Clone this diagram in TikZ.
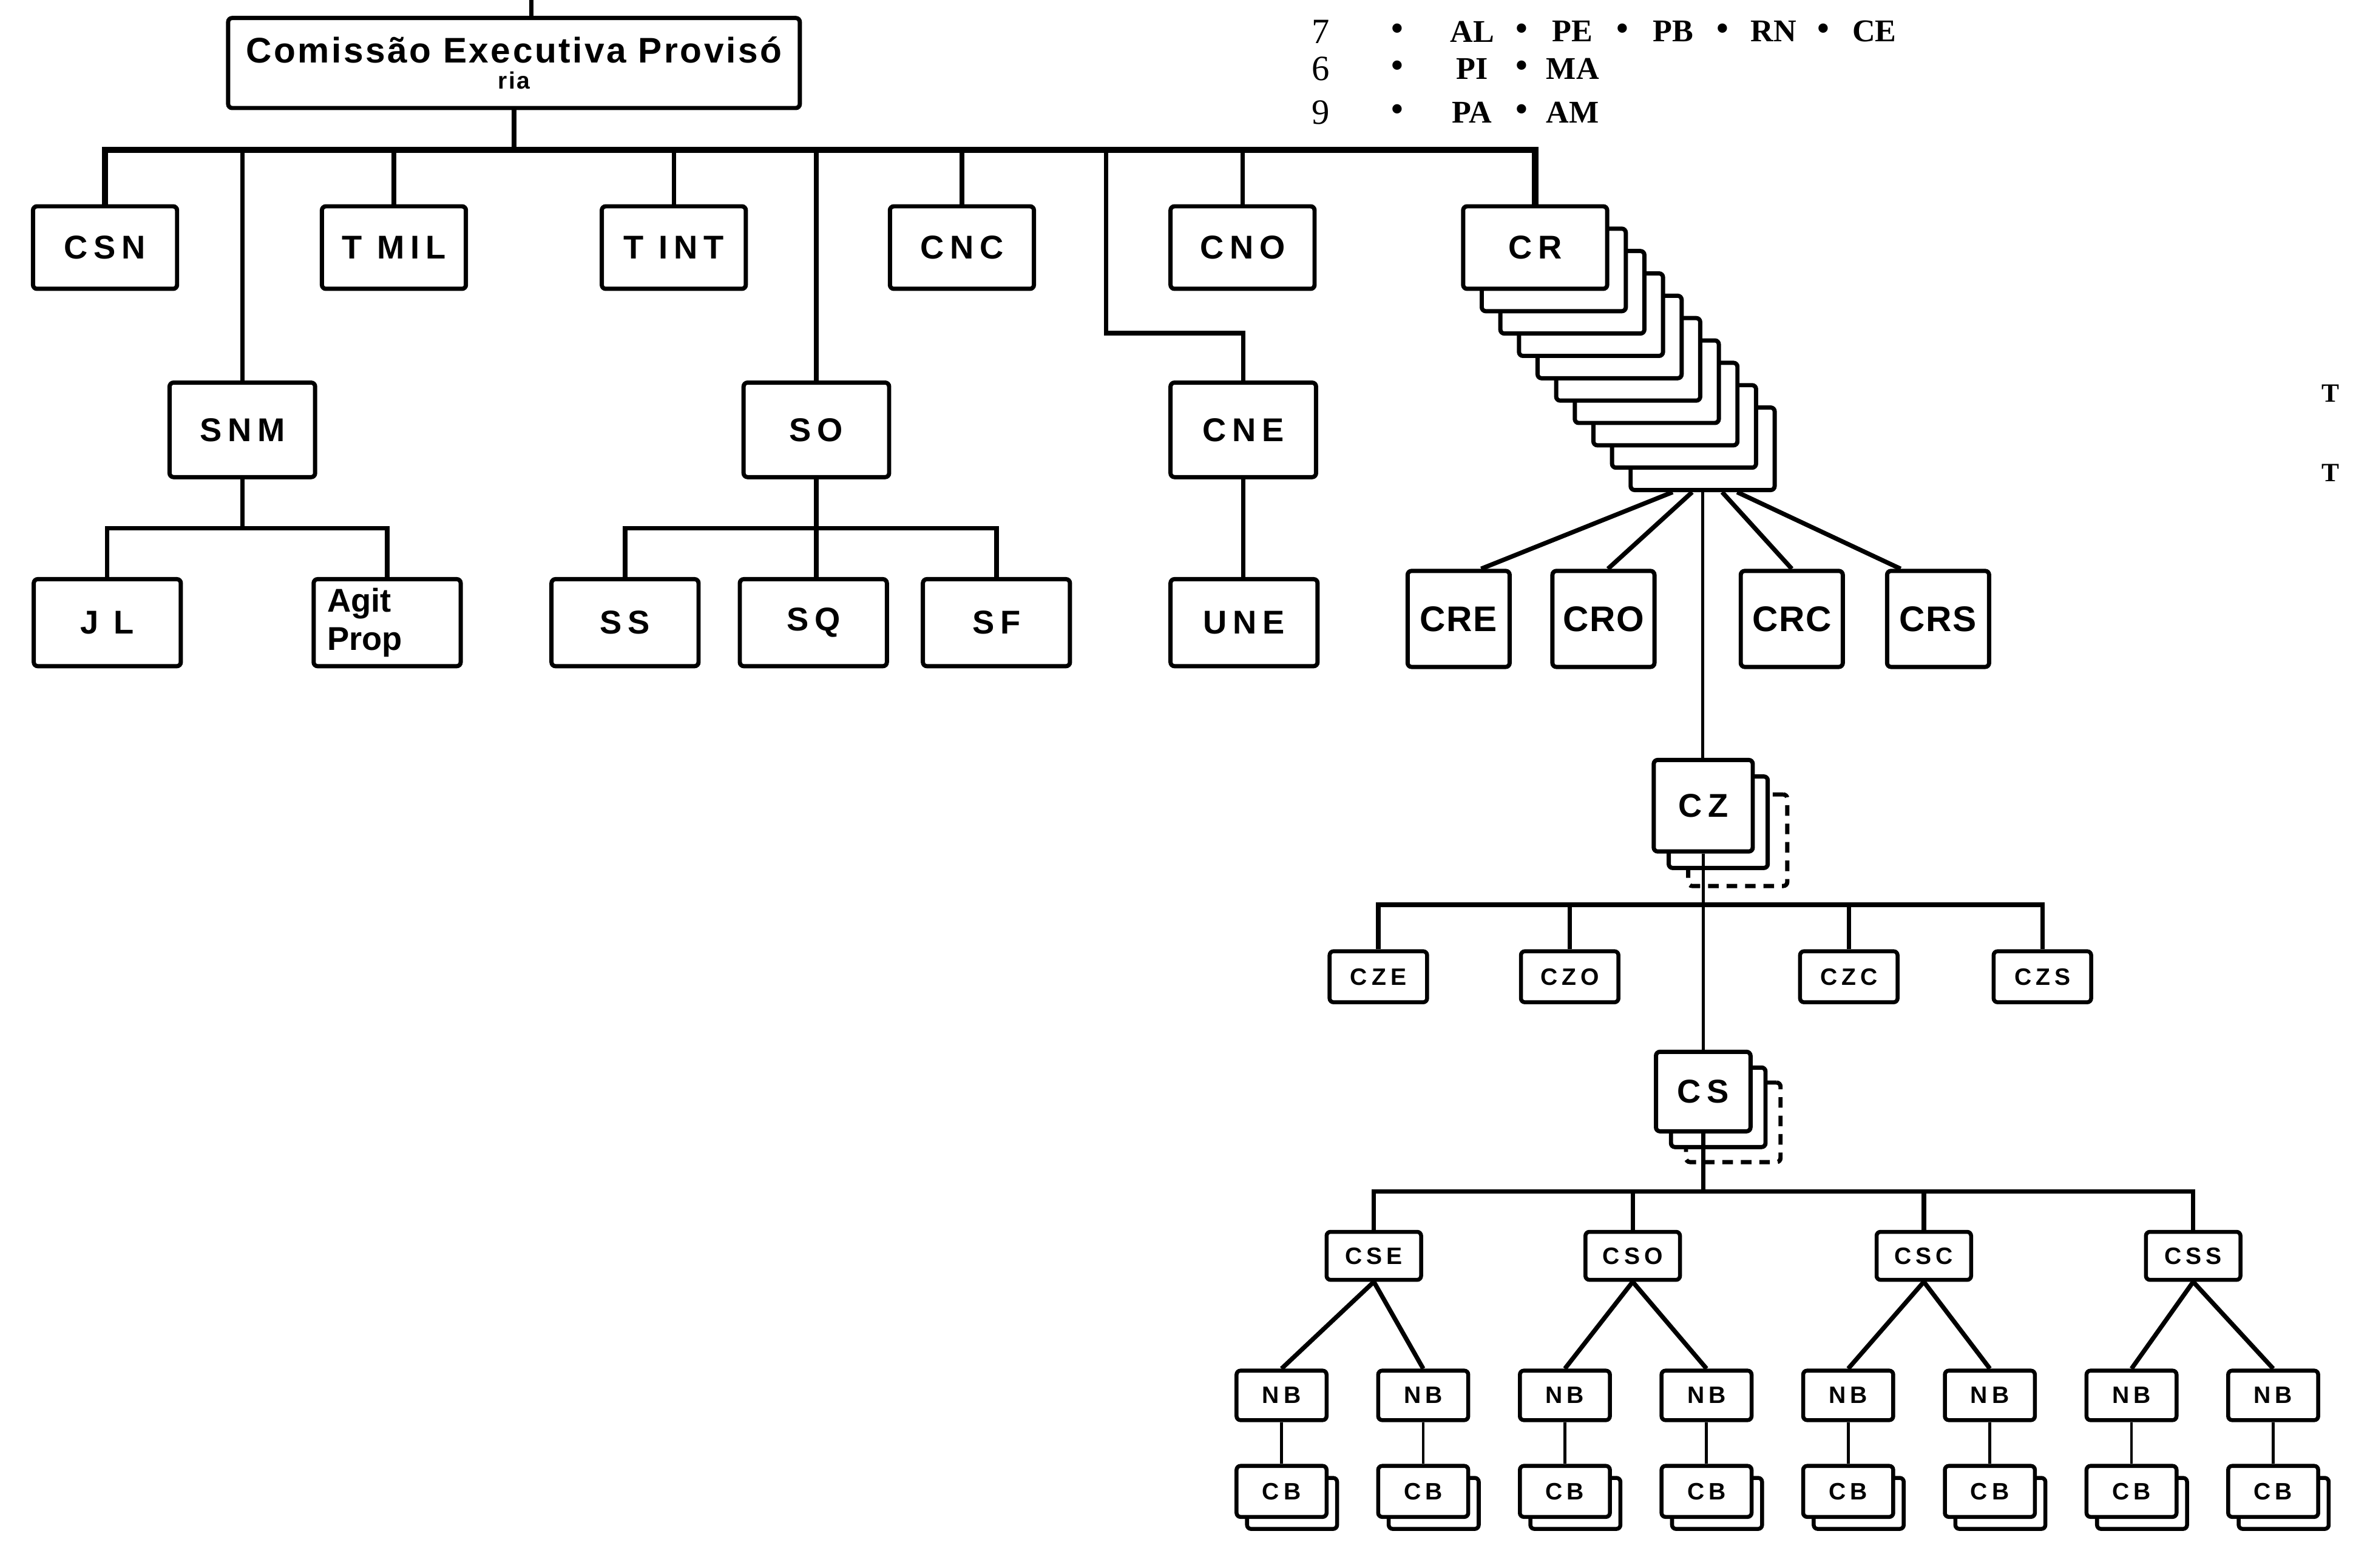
\documentclass[tikz,border=0pt]{standalone}
\usepackage{fontspec}
\setmainfont{Liberation Sans}
\newfontfamily\orgfont[LetterSpace=18]{Liberation Sans}
\newfontfamily\cepfont[LetterSpace=6]{Liberation Sans}
\newfontfamily\regfont[LetterSpace=3]{Liberation Sans}
\newfontfamily\legfont{Liberation Serif}
\usetikzlibrary{positioning,calc}
\tikzset{
    orgbox/.style={rectangle,draw,line width=1.6pt,fill=white,rounded corners=1.5pt,
                   minimum width=1.92cm,minimum height=1.1cm,inner sep=0pt,align=center,
                   font=\orgfont\bfseries\fontsize{12.5}{15}\selectfont},
    tinybox/.style={orgbox,line width=1.5pt,minimum width=1.2cm,minimum height=0.66cm,
                    font=\orgfont\bfseries\fontsize{9}{10}\selectfont},
    bus/.style={line width=2.4pt},
    link/.style={line width=1.7pt},
    thin/.style={line width=1.1pt},
}

\begin{document}
\begin{tikzpicture}[
    x=0.02cm, y=-0.02cm,
    midbox/.style={orgbox,minimum width=1.94cm,minimum height=1.26cm},
    lowbox/.style={orgbox,minimum width=1.96cm,minimum height=1.16cm},
    regbox/.style={orgbox,minimum width=1.36cm,minimum height=1.28cm,
                   font=\regfont\bfseries\fontsize{13.5}{16}\selectfont},
    zonebox/.style={orgbox,minimum width=1.32cm,minimum height=1.22cm},
    secbox/.style={orgbox,minimum width=1.26cm,minimum height=1.06cm},
    stackdash/.style={dash pattern=on 4pt off 3pt},
    legnum/.style={inner sep=0pt,font=\legfont\fontsize{13.5}{15}\selectfont},
    legtok/.style={inner sep=0pt,font=\legfont\bfseries\fontsize{12}{13}\selectfont},
    legsep/.style={inner sep=0pt,font=\legfont\bfseries\fontsize{13}{13}\selectfont},
]
    \fill[white] (0,0) rectangle (1568,1045);
    \useasboundingbox (0,0) rectangle (1568,1045);

    % ---- legenda ----
    \foreach \rown/\y/\items in {7/21/{AL,PE,PB,RN,CE},6/46/{PI,MA},9/75/{PA,AM}} {
        \node[legnum] (leg-\rown) at (880,\y) {\rown};
        \node[legsep] (leg-\rown-s0) at (931,\y) {•};
        \foreach \tok [count=\i] in \items {
            \node[legtok] (leg-\rown-\i) at ({981+67*(\i-1)},\y) {\tok};
            \ifnum\i>1 \node[legsep] (leg-\rown-s\i) at ({947+67*(\i-1)},\y) {•}; \fi
        }
    }
    \node[inner sep=0pt,font=\legfont\bfseries\fontsize{10}{12}\selectfont] (t-a) at (1553,262) {T};
    \node[inner sep=0pt,font=\legfont\bfseries\fontsize{10}{12}\selectfont] (t-b) at (1553,315) {T};

    % ---- comissao executiva ----
    \coordinate (top) at (354,0);
    \node[orgbox,minimum width=7.62cm,minimum height=1.2cm,
          font=\cepfont\bfseries\fontsize{13.5}{14}\selectfont] (cep) at (342.5,42)
        {Comissão Executiva Provisó\\[-4pt]{\fontsize{9}{10}\selectfont ria}};
    \coordinate (bus) at (0,100);

    % ---- primeira linha ----
    \node[orgbox] (csn)  at (70,165)    {CSN};
    \node[orgbox] (tmil) at (262.5,165) {T MIL};
    \node[orgbox] (tint) at (449,165)   {T INT};
    \node[orgbox] (cnc)  at (641,165)   {CNC};
    \node[orgbox] (cno)  at (828,165)   {CNO};
    \foreach \k in {9,...,1}
        \node[orgbox] (cr-\k) at ({1023+12.4*\k},{165+14.9*\k}) {};
    \node[orgbox] (cr) at (1023,165) {CR};

    % ---- segunda linha ----
    \node[midbox] (snm) at (161.5,286.5) {SNM};
    \node[midbox] (so)  at (544,286.5)   {SO};
    \node[midbox] (cne) at (828.5,286.5) {CNE};

    % ---- terceira linha ----
    \node[lowbox] (jl)  at (71.5,415) {J L};
    \node[lowbox,text width=1.6cm,align=left,
          font=\bfseries\fontsize{12.5}{14.5}\selectfont] (agit) at (258,415) {Agit\\Prop};
    \node[lowbox] (ss)  at (416.5,415) {SS};
    \node[lowbox] (sq)  at (542,415)   {SQ};
    \node[lowbox] (sf)  at (664,415)   {SF};
    \node[lowbox] (une) at (829,415)   {UNE};

    \node[regbox] (cre) at (972,412.5)    {CRE};
    \node[regbox] (cro) at (1068.5,412.5) {CRO};
    \node[regbox] (crc) at (1194,412.5)   {CRC};
    \node[regbox] (crs) at (1291.5,412.5) {CRS};

    % ---- zona ----
    \node[zonebox,stackdash] (cz-2) at (1158,560) {};
    \node[zonebox] (cz-1) at (1145,548) {};
    \node[zonebox] (cz)   at (1135,537) {CZ};
    \coordinate (czbus) at (0,603);
    \node[tinybox,minimum width=1.3cm,minimum height=0.68cm] (cze) at (918.5,651) {CZE};
    \node[tinybox,minimum width=1.3cm,minimum height=0.68cm] (czo) at (1046,651)  {CZO};
    \node[tinybox,minimum width=1.3cm,minimum height=0.68cm] (czc) at (1232,651)  {CZC};
    \node[tinybox,minimum width=1.3cm,minimum height=0.68cm] (czs) at (1361,651)  {CZS};

    % ---- setor ----
    \node[secbox,stackdash] (cs-2) at (1155,748) {};
    \node[secbox] (cs-1) at (1145,738) {};
    \node[secbox] (cs)   at (1135,727.5) {CS};
    \coordinate (csbus) at (0,794);
    \node[tinybox,minimum width=1.26cm,minimum height=0.64cm] (cse) at (915.5,837)  {CSE};
    \node[tinybox,minimum width=1.26cm,minimum height=0.64cm] (cso) at (1088,837)   {CSO};
    \node[tinybox,minimum width=1.26cm,minimum height=0.64cm] (csc) at (1282,837)   {CSC};
    \node[tinybox,minimum width=1.26cm,minimum height=0.64cm] (css) at (1461.5,837) {CSS};

    % ---- nucleos e celulas ----
    \foreach \i in {0,...,7} {
        \node[tinybox,minimum height=0.68cm] (cb-\i-b) at ({861+94.4*\i},1002) {};
        \node[tinybox,minimum height=0.68cm] (cb-\i) at ({854+94.4*\i},994) {CB};
        \node[tinybox] (nb-\i) at ({854+94.4*\i},930) {NB};
        \draw[thin] (nb-\i) -- (cb-\i);
    }

    % ---- ligacoes ----
    \draw[link] (top) -- (top |- cep.north);
    \draw[link] (cep.south) -- (cep.south |- bus);
    \draw[bus] (csn.north) -- (csn.north |- bus) -- (cr.north |- bus) -- (cr.north);
    \foreach \n in {tmil,tint,cnc,cno,snm,so}
        \draw[link] (\n.north) -- (\n.north |- bus);
    \coordinate (cnebend) at (737,222);
    \draw[link] (cnebend |- bus) -- (cnebend) -| (cne.north);

    \coordinate (lowbus) at (0,352);
    \draw[link] (jl.north) -- (jl.north |- lowbus) -- (agit.north |- lowbus) -- (agit.north);
    \draw[link] (snm.south) -- (snm.south |- lowbus);
    \draw[link] (ss.north) -- (ss.north |- lowbus) -- (sf.north |- lowbus) -- (sf.north);
    \draw[link] (so.south) -- (so.south |- sq.north);
    \draw[link] (cne.south) -- (cne.south |- une.north);

    \draw[link] ([xshift=-0.4cm]cr-9.south)  -- ([xshift=0.3cm]cre.north);
    \draw[link] ([xshift=-0.14cm]cr-9.south) -- ([xshift=0.06cm]cro.north);
    \draw[link] ([xshift=0.26cm]cr-9.south)  -- (crc.north);
    \draw[link] ([xshift=0.46cm]cr-9.south)  -- ([xshift=-0.5cm]crs.north);
    \draw[thin] (cr-9.south) -- (cr-9.south |- cz.north);

    \draw[link] (cze.north) -- (cze.north |- czbus) -- (czs.north |- czbus) -- (czs.north);
    \draw[link] (czo.north) -- (czo.north |- czbus);
    \draw[link] (czc.north) -- (czc.north |- czbus);
    \draw[thin] (cz.south) -- (cz.south |- cs.north);

    \draw[link] (cse.north) -- (cse.north |- csbus) -- (css.north |- csbus) -- (css.north);
    \draw[link] (cso.north) -- (cso.north |- csbus);
    \draw[link] (csc.north) -- (csc.north |- csbus);
    \draw[link] (cs.south) -- (cs.south |- csbus);
    \foreach \s/\a/\b in {cse/0/1,cso/2/3,csc/4/5,css/6/7} {
        \draw[link] (\s.south) -- (nb-\a.north);
        \draw[link] (\s.south) -- (nb-\b.north);
    }
\end{tikzpicture}
\end{document}
